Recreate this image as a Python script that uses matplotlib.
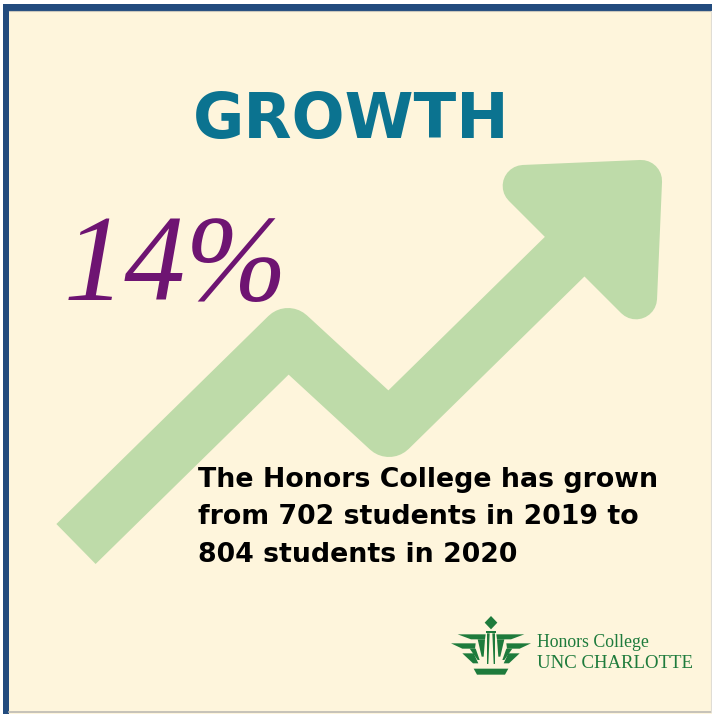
import matplotlib
matplotlib.use("Agg")
import matplotlib.pyplot as plt
from matplotlib.patches import Polygon, Rectangle
import numpy as np

# ---- data / text content ----
title = "GROWTH"
students_2019 = 702
students_2020 = 804
year_from = 2019
year_to = 2020
growth_label = "14%"
body_lines = [
    "The Honors College has grown",
    f"from {students_2019} students in {year_from} to",
    f"{students_2020} students in {year_to}",
]
logo_lines = ["Honors College", "UNC CHARLOTTE"]

# ---- colours ----
BG = "#FEF5DC"
BLUE = "#224B7E"
GREEN_ARROW = "#BEDBA9"
TEAL = "#0B7390"
PURPLE = "#6E1472"
LOGO_GREEN = "#1E7B3C"

W, H = 712, 714
DPI = 100
fig = plt.figure(figsize=(W / DPI, H / DPI), dpi=DPI, facecolor="white")
ax = fig.add_axes([0, 0, 1, 1])
ax.set_xlim(0, W)
ax.set_ylim(H, 0)
ax.axis("off")

# background panel and frame
ax.add_patch(Rectangle((3, 4), W - 3, H - 4, facecolor=BG, edgecolor="none", zorder=0))
ax.add_patch(Rectangle((3, 4), W - 3, 6.5, facecolor=BLUE, edgecolor="none", zorder=1))
ax.add_patch(Rectangle((3, 4), 6.3, H - 4, facecolor=BLUE, edgecolor="none", zorder=1))
ax.plot([9.3, W], [11, 11], color="#C9C6BC", lw=0.8, zorder=1)
ax.plot([9.3, W], [712, 712], color="#BDBAB2", lw=1.2, zorder=1)
ax.plot([711, 711], [11, 712], color="#E0DDD4", lw=0.8, zorder=1)

px2pt = 72.0 / DPI

# ---- arrow (decorative shape) ----
arrow_path_x = [76, 288, 389, 600]
arrow_path_y = [544, 336, 429, 222]
shaft_width_px = 56
ax.plot(arrow_path_x, arrow_path_y, color=GREEN_ARROW, lw=shaft_width_px * px2pt,
        solid_joinstyle="round", solid_capstyle="butt", zorder=2)

head = np.array([[475, 167], [663, 159], [655, 347]], dtype=float)
r = 21.0
a = np.linalg.norm(head[1] - head[2])
b = np.linalg.norm(head[2] - head[0])
c = np.linalg.norm(head[0] - head[1])
inc = (a * head[0] + b * head[1] + c * head[2]) / (a + b + c)
s = (a + b + c) / 2
v1, v2 = head[1] - head[0], head[2] - head[0]
area = 0.5 * abs(v1[0] * v2[1] - v1[1] * v2[0])
inr = area / s
inner = inc + (head - inc) * (inr - r) / inr
ax.add_patch(Polygon(inner, closed=True, facecolor=GREEN_ARROW, edgecolor=GREEN_ARROW,
                     lw=2 * r * px2pt, joinstyle="round", zorder=2))

# ---- texts ----
ax.text(351, 138, title, color=TEAL, fontsize=45, fontweight="bold",
        family="DejaVu Sans", ha="center", va="baseline", zorder=3)

ax.text(64, 300, growth_label, color=PURPLE, fontsize=88, style="italic",
        family="Liberation Serif", ha="left", va="baseline", zorder=3)

for i, line in enumerate(body_lines):
    ax.text(198, 487 + i * 37.5, line, color="black", fontsize=19.3, fontweight="bold",
            family="DejaVu Sans", ha="left", va="baseline", zorder=3)

# ---- logo ----
ax.text(537, 647, logo_lines[0], color=LOGO_GREEN, fontsize=12.8,
        family="Liberation Serif", ha="left", va="baseline", zorder=3)
ax.text(537, 668, logo_lines[1], color=LOGO_GREEN, fontsize=13.5,
        family="Liberation Serif", ha="left", va="baseline", zorder=3)

def z(pts):
    return [(445 + x / 3.0, 610 + y / 3.0) for x, y in pts]

cx = 138
left_shapes = [
    [(38, 73), (122, 73), (120, 88), (78, 88)],
    [(98, 88), (120, 88), (116, 140), (110, 140)],
    [(18, 100), (92, 100), (90, 116), (52, 116)],
    [(74, 116), (92, 116), (104, 150), (98, 150)],
    [(52, 130), (86, 130), (100, 160), (84, 160)],
    [(126, 70), (134, 70), (130, 162), (126, 162)],
]
shapes = []
for sh in left_shapes:
    shapes.append(sh)
    shapes.append([(2 * cx - x, y) for x, y in sh])
shapes.append([(cx, 18), (cx + 19, 38), (cx, 58), (cx - 19, 38)])
shapes.append([(124, 62), (152, 62), (152, 70), (124, 70)])
shapes.append([(86, 176), (190, 176), (180, 194), (96, 194)])
for sh in shapes:
    ax.add_patch(Polygon(z(sh), closed=True, facecolor=LOGO_GREEN, edgecolor="none", zorder=3))

fig.savefig("out.png", dpi=DPI, facecolor=fig.get_facecolor())
